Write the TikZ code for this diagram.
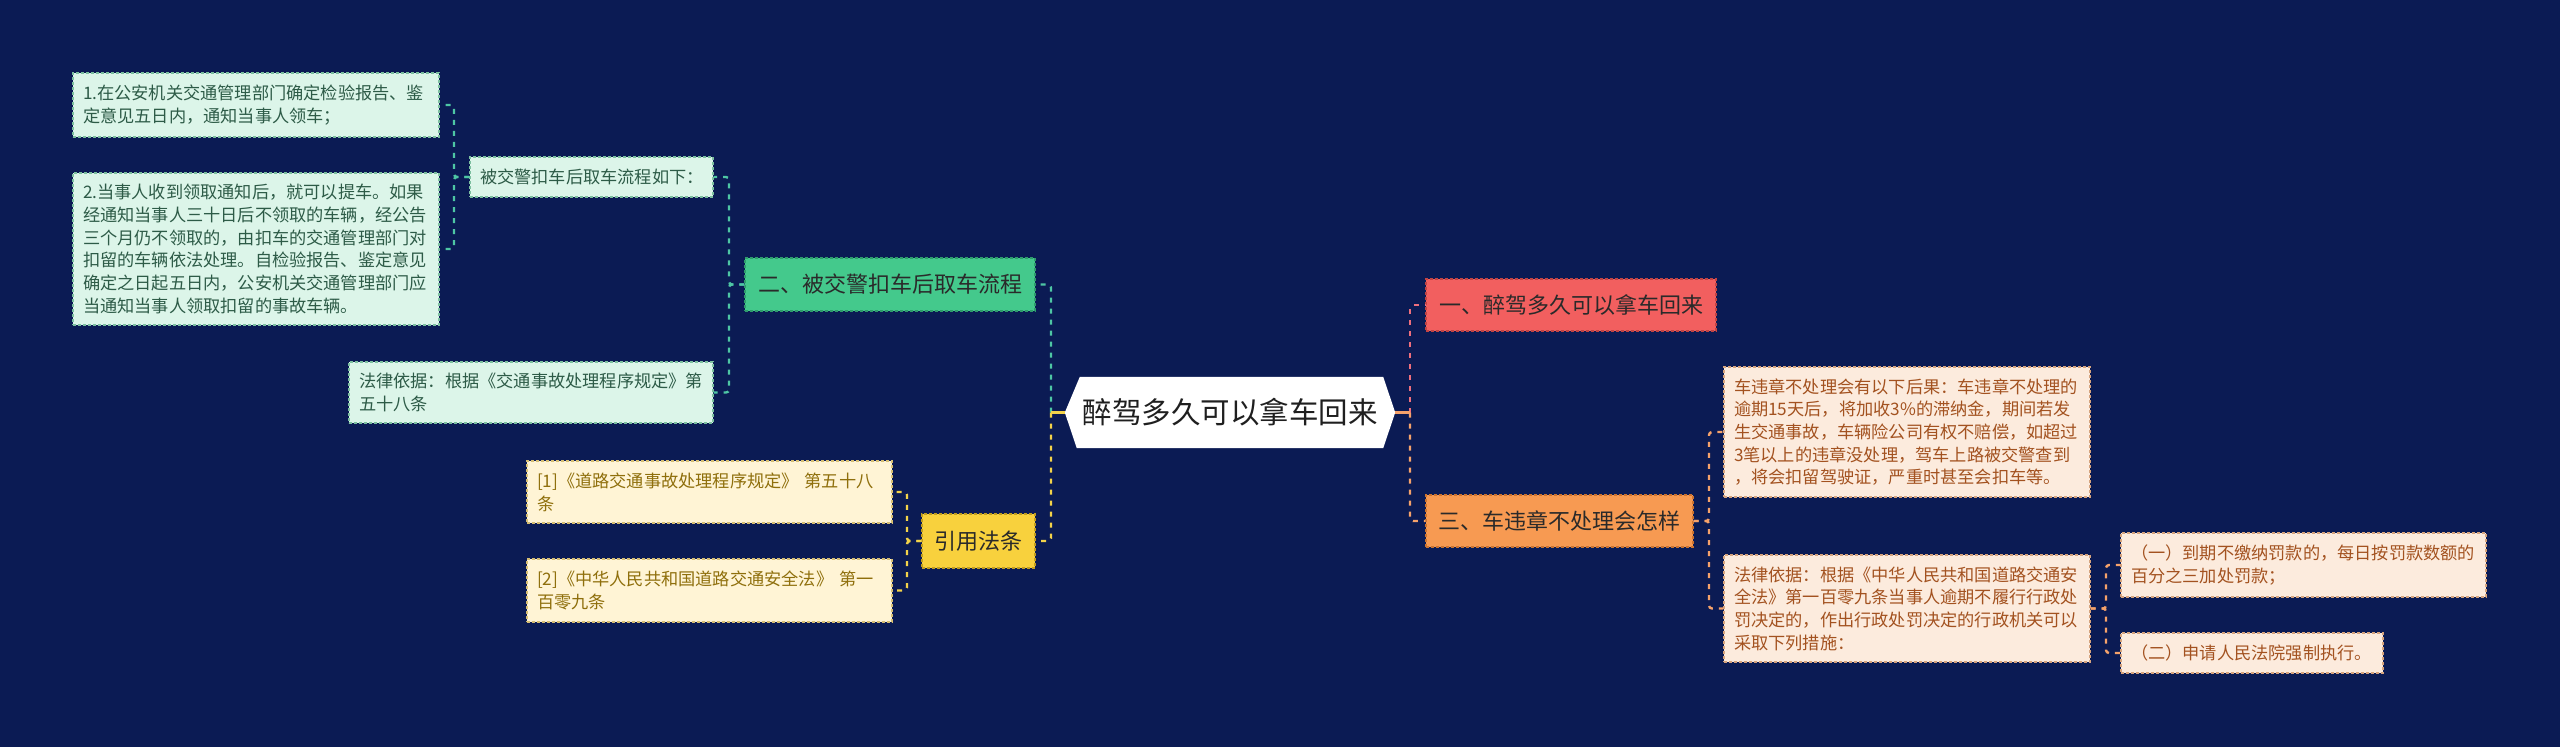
\documentclass[tikz,border=0pt]{standalone}
\usepackage{fontspec}
\setmainfont{Noto Sans CJK SC}
\usetikzlibrary{backgrounds,calc}
\definecolor{bg}{HTML}{0B1B54}
\definecolor{grn}{HTML}{44C98C}
\definecolor{grnB}{HTML}{2E9C6C}
\definecolor{grnL}{HTML}{DCF5E9}
\definecolor{grnLB}{HTML}{7DBFA0}
\definecolor{grnT}{HTML}{2D5B47}
\definecolor{tealC}{HTML}{4EC6A4}
\definecolor{yel}{HTML}{F8D13D}
\definecolor{yelB}{HTML}{C29E1E}
\definecolor{yelL}{HTML}{FFF4D5}
\definecolor{yelLB}{HTML}{D6BE74}
\definecolor{yelT}{HTML}{8F6F0C}
\definecolor{yelC}{HTML}{F3D34A}
\definecolor{mred}{HTML}{F25F5F}
\definecolor{mredB}{HTML}{C24444}
\definecolor{redC}{HTML}{EE6F7D}
\definecolor{org}{HTML}{F79A52}
\definecolor{orgB}{HTML}{CC7330}
\definecolor{orgL}{HTML}{FCEBDD}
\definecolor{orgLB}{HTML}{D6A47E}
\definecolor{orgT}{HTML}{A35220}
\definecolor{orgC}{HTML}{F5A26B}
\definecolor{dk}{HTML}{2A2A2A}
\tikzset{
  box/.style={rectangle, inner ysep=0pt, line width=1.2pt, dash pattern=on 3pt off 2pt},
  lone/.style={box, inner xsep=0pt, align=center, text=dk, font=\fontsize{22}{26}\selectfont},
  ltwo/.style={box, inner xsep=10pt, align=left, font=\fontsize{17.2}{22.7}\selectfont},
  gbox/.style={ltwo, fill=grnL, draw=grnLB, text=grnT},
  ybox/.style={ltwo, fill=yelL, draw=yelLB, text=yelT},
  obox/.style={ltwo, fill=orgL, draw=orgLB, text=orgT},
  conn/.style={line width=2.4pt, dash pattern=on 5pt off 6pt, rounded corners=3pt},
  solidconn/.style={line width=2.4pt},
}
\begin{document}
\begin{tikzpicture}[x=1pt,y=-1pt]
\useasboundingbox (0,0) rectangle (2560,747);
% central
\node[rectangle, inner sep=0pt, minimum width=330, minimum height=71, text=black!88, font=\fontsize{29.5}{34}\selectfont] (c) at (1230,412.5) {醉驾多久可以拿车回来};
% level 1
\node[lone, fill=grn, draw=grnB, minimum width=290, minimum height=53] (gr) at (890,284.5) {二、被交警扣车后取车流程};
\node[lone, fill=yel, draw=yelB, minimum width=113, minimum height=54] (yl) at (978.5,541) {引用法条};
\node[lone, fill=mred, draw=mredB, minimum width=290, minimum height=52] (rd) at (1571,305) {一、醉驾多久可以拿车回来};
\node[lone, fill=org, draw=orgB, minimum width=267, minimum height=52] (or) at (1559.5,521) {三、车违章不处理会怎样};
% green branch
\node[gbox, text width=223, minimum height=40] (gq) at (591.5,177) {被交警扣车后取车流程如下：};
\node[gbox, text width=344, minimum height=61] (gl) at (531,392.5) {法律依据：根据《交通事故处理程序规定》第\\五十八条};
\node[gbox, text width=346, minimum height=64] (g1) at (256,105) {1.在公安机关交通管理部门确定检验报告、鉴\\定意见五日内，通知当事人领车；};
\node[gbox, text width=346, minimum height=152] (g2) at (256,249) {2.当事人收到领取通知后，就可以提车。如果\\经通知当事人三十日后不领取的车辆，经公告\\三个月仍不领取的，由扣车的交通管理部门对\\扣留的车辆依法处理。自检验报告、鉴定意见\\确定之日起五日内，公安机关交通管理部门应\\当通知当事人领取扣留的事故车辆。};
% yellow branch
\node[ybox, text width=345, minimum height=62] (y1) at (709.5,492) {[1]《道路交通事故处理程序规定》 第五十八\\条};
\node[ybox, text width=345, minimum height=63] (y2) at (709.5,590.5) {[2]《中华人民共和国道路交通安全法》 第一\\百零九条};
% orange branch
\node[obox, text width=346, minimum height=130] (o1) at (1907,432) {车违章不处理会有以下后果：车违章不处理的\\逾期15天后，将加收3\%的滞纳金，期间若发\\生交通事故，车辆险公司有权不赔偿，如超过\\3笔以上的违章没处理，驾车上路被交警查到\\，将会扣留驾驶证，严重时甚至会扣车等。};
\node[obox, text width=346, minimum height=107] (o2) at (1907,608.5) {法律依据：根据《中华人民共和国道路交通安\\全法》第一百零九条当事人逾期不履行行政处\\罚决定的，作出行政处罚决定的行政机关可以\\采取下列措施：};
\node[obox, text width=345, minimum height=64] (o3) at (2303.5,565) {（一）到期不缴纳罚款的，每日按罚款数额的\\百分之三加处罚款；};
\node[obox, text width=242, minimum height=40] (o4) at (2252,653) {（二）申请人民法院强制执行。};
% trunk coordinates
\coordinate (tL) at (1051,0);
\coordinate (tR) at (1410,0);
\coordinate (tG) at (729,0);
\coordinate (tQ) at (454,0);
\coordinate (tY) at (907,0);
\coordinate (tO) at (1709,0);
\coordinate (tP) at (2106,0);
% connectors
\draw[conn, tealC] (c.west -| tL) |- (gr.east);
\draw[conn, yelC] (c.west -| tL) |- (yl.east);
\draw[solidconn, yelC] (c.west) -- (c.west -| tL);
\draw[conn, redC] (c.east -| tR) |- (rd.west);
\draw[conn, orgC] (c.east -| tR) |- (or.west);
\draw[solidconn, orgC] (c.east) -- (c.east -| tR);
\draw[conn, tealC] (gr.west) -- (gr.west -| tG) |- (gq.east);
\draw[conn, tealC] (gr.west) -- (gr.west -| tG) |- (gl.east);
\draw[conn, tealC] (gq.west) -- (gq.west -| tQ) |- (g1.east);
\draw[conn, tealC] (gq.west) -- (gq.west -| tQ) |- (g2.east);
\draw[conn, yelC] (yl.west) -- (yl.west -| tY) |- (y1.east);
\draw[conn, yelC] (yl.west) -- (yl.west -| tY) |- (y2.east);
\draw[conn, orgC] (or.east) -- (or.east -| tO) |- (o1.west);
\draw[conn, orgC] (or.east) -- (or.east -| tO) |- (o2.west);
\draw[conn, orgC] (o2.east) -- (o2.east -| tP) |- (o3.west);
\draw[conn, orgC] (o2.east) -- (o2.east -| tP) |- (o4.west);
\begin{pgfonlayer}{background}
\fill[bg] (0,0) rectangle (2560,747);
\fill[white] ($(c.north west)+(15,0)$) -- ($(c.north east)+(-12,0)$) -- (c.east) -- ($(c.south east)+(-12,0)$) -- ($(c.south west)+(12,0)$) -- (c.west) -- cycle;
\end{pgfonlayer}
\end{tikzpicture}
\end{document}
